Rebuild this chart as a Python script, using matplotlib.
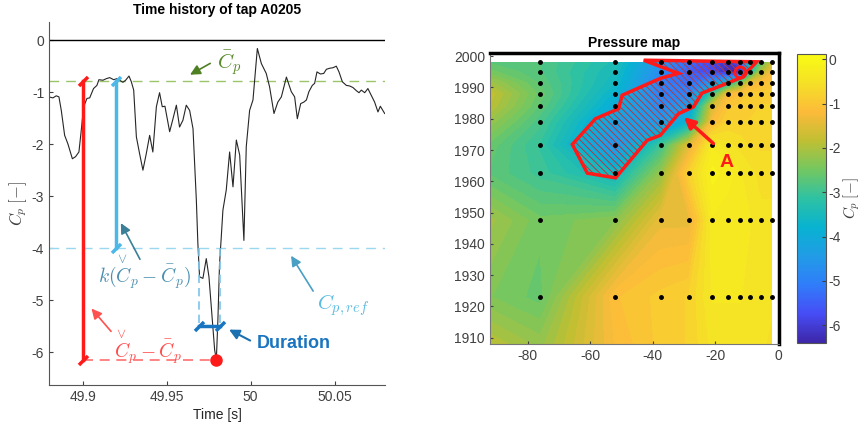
import numpy as np
import matplotlib
matplotlib.use('Agg')
import matplotlib.pyplot as plt
from matplotlib.colors import LinearSegmentedColormap, Normalize
from matplotlib.cm import ScalarMappable
from matplotlib.path import Path
from matplotlib.patches import Polygon

plt.rcParams['font.family'] = ['Liberation Sans', 'DejaVu Sans']
plt.rcParams['mathtext.fontset'] = 'cm'
plt.rcParams['axes.unicode_minus'] = False
plt.rcParams['hatch.linewidth'] = 0.7

# ---- time history of tap A0205 ----
t = [49.8799, 49.8823, 49.8843, 49.8859, 49.8873, 49.8893, 49.8912, 49.8939, 49.8958, 49.8978,
     49.8992, 49.9006, 49.9026, 49.9042, 49.9065, 49.9085, 49.9097, 49.9121, 49.9141, 49.9161,
     49.9185, 49.9204, 49.9220, 49.9240, 49.9256, 49.9276, 49.9290, 49.9304, 49.9320, 49.9339,
     49.9359, 49.9379, 49.9399, 49.9418, 49.9439, 49.9458, 49.9474, 49.9490, 49.9518, 49.9538,
     49.9558, 49.9577, 49.9597, 49.9617, 49.9637, 49.9657, 49.9677, 49.9686, 49.9696, 49.9716,
     49.9736, 49.9752, 49.9772, 49.9786, 49.9796, 49.9805, 49.9815, 49.9825, 49.9835, 49.9855,
     49.9875, 49.9895, 49.9915, 49.9935, 49.9960, 49.9974, 49.9994, 50.0014, 50.0040, 50.0064,
     50.0093, 50.0113, 50.0139, 50.0162, 50.0183, 50.0213, 50.0242, 50.0262, 50.0278, 50.0298,
     50.0317, 50.0332, 50.0347, 50.0367, 50.0381, 50.0395, 50.0415, 50.0435, 50.0451, 50.0470,
     50.0490, 50.0510, 50.0526, 50.0546, 50.0570, 50.0589, 50.0609, 50.0629, 50.0645, 50.0659,
     50.0679, 50.0698, 50.0718, 50.0738, 50.0758, 50.0772, 50.0798]
cp = [-1.09, -1.11, -1.07, -1.09, -1.35, -1.83, -1.99, -2.28, -2.24, -2.15,
      -1.73, -1.28, -1.12, -1.11, -0.93, -0.87, -0.76, -0.77, -0.74, -0.72,
      -0.76, -0.74, -0.77, -0.81, -0.77, -0.69, -0.80, -0.96, -1.86, -2.18,
      -2.50, -2.18, -1.83, -2.15, -1.28, -1.01, -1.28, -1.27, -1.76, -1.51,
      -1.25, -1.67, -1.54, -1.25, -1.35, -1.70, -3.08, -3.91, -4.55, -4.58,
      -4.20, -4.55, -5.38, -5.96, -6.14, -5.40, -4.30, -3.80, -3.27, -2.88,
      -2.15, -2.82, -1.92, -2.21, -3.85, -2.05, -1.35, -1.15, -0.16, -0.45,
      -0.64, -0.90, -1.41, -1.19, -1.09, -0.71, -0.99, -1.09, -1.51, -1.22,
      -1.19, -1.15, -0.99, -0.87, -0.83, -0.61, -0.65, -0.64, -0.56, -0.54,
      -0.53, -0.50, -0.61, -0.80, -0.87, -0.88, -0.91, -0.97, -1.01, -0.96,
      -1.01, -0.93, -1.06, -1.19, -1.38, -1.27, -1.41]

cp_mean = -0.78
cp_min = -6.14
t_min = 49.9796
k = 0.6
cp_ref = cp_mean + k * (cp_min - cp_mean)
t_red = 49.90
t_blue = 49.92
t_start, t_end = 49.9690, 49.9818
cp_dur = -5.5

# ---- pressure map ----
grid_x = [-92, -76, -52, -37.5, -28.5, -21, -16, -12, -9, -5.5, -2]
grid_z = [1998, 1995, 1991.5, 1988, 1984, 1979, 1971.5, 1962.5, 1947.5, 1923, 1908]
cp_map = [
    [-2.7, -2.8, -3.4, -4.6, -5.3, -5.8, -6.2, -5.6, -3.5, -2.7, -1.8],
    [-2.5, -2.8, -3.5, -4.8, -5.5, -5.8, -6.3, -6.4, -3.5, -2.0, -1.3],
    [-2.1, -2.7, -3.6, -5.0, -5.3, -4.6, -3.5, -2.5, -1.5, -1.2, -1.0],
    [-1.8, -2.6, -3.8, -5.0, -4.9, -3.0, -1.3, -1.1, -0.9, -0.9, -0.9],
    [-1.9, -2.7, -4.0, -4.8, -4.4, -1.6, -1.0, -0.9, -0.9, -0.8, -0.8],
    [-2.2, -2.9, -4.3, -4.5, -3.8, -1.2, -0.8, -0.8, -0.8, -0.8, -0.8],
    [-2.6, -3.1, -4.6, -3.0, -1.5, -0.3, -0.5, -0.6, -0.7, -0.7, -0.7],
    [-2.7, -3.0, -3.6, -2.2, -0.8, -0.1, -0.2, -0.4, -0.5, -0.6, -0.6],
    [-2.1, -2.5, -2.3, -1.4, -1.4, -0.3, -0.4, -0.4, -0.4, -0.5, -0.5],
    [-2.4, -2.6, -1.1, -0.9, -0.8, -0.4, -0.4, -0.4, -0.5, -0.5, -0.5],
    [-1.9, -2.2, -1.2, -0.9, -0.8, -0.5, -0.5, -0.5, -0.5, -0.5, -0.6],
]
tap_x = [-76, -52, -37.5, -28.5, -21, -16, -12, -9, -5.5, -2]
tap_z = [1998, 1995, 1991.5, 1988, 1984, 1979, 1971.5, 1962.5, 1947.5, 1923]

zone_x = [-42.9, -31.8, -37.6, -49.8, -50.9, -58.3, -65.7, -60.9, -51.9, -41.8,
          -37.6, -31.8, -27.0, -24.3, -20.6, -11.6, -6.8]
zone_z = [1998.7, 1994.5, 1992.9, 1987.5, 1983.2, 1980.0, 1971.8, 1962.6, 1961.1, 1973.1,
          1974.7, 1981.6, 1983.8, 1988.2, 1989.6, 1993.2, 1998.2]
peak_tap = (-12.1, 1995)
cp_lim = (-6.4, 0.12)
cb_ticks = [0, -1, -2, -3, -4, -5, -6]

parula = LinearSegmentedColormap.from_list('parula', [
    (0.2422, 0.1504, 0.6603), (0.2760, 0.3000, 0.9600), (0.1900, 0.4900, 0.9800),
    (0.1300, 0.6100, 0.9000), (0.0300, 0.7000, 0.8200), (0.1800, 0.7600, 0.6400),
    (0.4500, 0.7800, 0.3800), (0.7500, 0.7500, 0.2000), (0.9900, 0.7300, 0.2300),
    (0.9600, 0.8800, 0.1500), (0.9769, 0.9839, 0.0805)])

grey = '#404040'
cap = Path([(-1, -1), (1, 1)], [Path.MOVETO, Path.LINETO])
c_check = r'\overset{\vee}{C}'

fig = plt.figure(figsize=(8.66, 4.36), dpi=100)
ax = fig.add_axes([0.0566, 0.117, 0.388, 0.8326])
ax2 = fig.add_axes([0.5658, 0.211, 0.3337, 0.6674])
cax = fig.add_axes([0.9203, 0.2133, 0.0335, 0.6628])

# left: time history
ax.axhline(0, color='black', lw=1)
ax.axhline(cp_mean, color='#9cc46a', lw=1, ls=(0, (7, 5)))
ax.axhline(cp_ref, color='#9ad8f0', lw=1, ls=(0, (7, 5)))
ax.plot(t, cp, color='#262626', lw=0.8)

ax.plot([t_red, t_min], [cp_min, cp_min], color='#ff7070', lw=1.2, ls=(0, (6, 4)))
ax.plot([t_red, t_red], [cp_mean, cp_min], color='#ff1a1a', lw=2.5,
        marker=cap, ms=6.5, mew=2.5, mfc='none')
ax.plot(t_min, cp_min, 'o', color='#ff1a1a', ms=8)
ax.plot([t_blue, t_blue], [cp_mean, cp_ref], color='#4cb8e8', lw=2.5,
        marker=cap, ms=6.5, mew=2.5, mfc='none')

for tt in (t_start, t_end):
    ax.plot([tt, tt], [cp_ref, cp_dur], color='#7cc4ea', lw=1.2, ls=(0, (5, 3)))
ax.plot([t_start, t_end], [cp_dur, cp_dur], color='#1a75c0', lw=2.5,
        marker=cap, ms=6.5, mew=2.5, mfc='none')

ax.annotate('', xy=(49.9625, -0.69), xytext=(49.9774, -0.42),
            arrowprops=dict(arrowstyle='-|>', color='#4f7f23', lw=1.2, mutation_scale=15))
ax.text(49.9875, -0.44, r'$\bar{C}_p$', color='#5b8a2e', fontsize=15, ha='center', va='center')

ax.annotate('', xy=(50.0232, -4.10), xytext=(50.0381, -4.87),
            arrowprops=dict(arrowstyle='-|>', color='#4a9fc4', lw=1.2, mutation_scale=15))
ax.text(50.0548, -5.1, r'$C_{p,ref}$', color='#5bbbe0', fontsize=15, ha='center', va='center')

ax.annotate('', xy=(49.9220, -3.47), xytext=(49.9349, -4.26),
            arrowprops=dict(arrowstyle='-|>', color='#3b7f99', lw=1.2, mutation_scale=15))
ax.text(49.9369, -4.46, r'$k(' + c_check + r'_p-\bar{C}_p)$', color='#4a8fb0', fontsize=14,
        ha='center', va='center')

ax.annotate('', xy=(49.9042, -5.12), xytext=(49.9180, -5.64),
            arrowprops=dict(arrowstyle='-|>', color='#ff5050', lw=1.2, mutation_scale=15))
ax.text(49.9389, -5.9, r'$' + c_check + r'_p-\bar{C}_p$', color='#ff4a4a', fontsize=14,
        ha='center', va='center')

ax.annotate('', xy=(49.9857, -5.54), xytext=(50.0012, -5.80),
            arrowprops=dict(arrowstyle='-|>', color='#1a70b0', lw=1.5, mutation_scale=15))
ax.text(50.0036, -5.83, 'Duration', color='#1a75c0', fontsize=13, fontweight='bold',
        ha='left', va='center')

ax.set_xlim(49.88, 50.08)
ax.set_ylim(-6.63, 0.35)
ax.set_xticks([49.9, 49.95, 50, 50.05])
ax.set_xticklabels(['49.9', '49.95', '50', '50.05'])
ax.set_yticks([0, -1, -2, -3, -4, -5, -6])
ax.set_xlabel('Time [s]', fontsize=10, color='#262626', labelpad=3)
ax.set_ylabel(r'$C_p\;[-]$', fontsize=12, color=grey, labelpad=2)
ax.set_title('Time history of tap A0205', fontsize=10, fontweight='bold', pad=6)
for s in ('top', 'right'):
    ax.spines[s].set_visible(False)
for s in ('left', 'bottom'):
    ax.spines[s].set_color('#555555')
ax.tick_params(direction='in', length=3, colors=grey, labelsize=10, labelcolor=grey)

# right: pressure map
X, Z = np.meshgrid(grid_x, grid_z)
levels = np.linspace(cp_lim[0], cp_lim[1], 50)
ax2.contourf(X, Z, np.array(cp_map), levels=levels, cmap=parula)
hatch = Polygon(np.column_stack([zone_x, zone_z]), closed=True, facecolor='none',
                edgecolor='#b03a48', lw=0, hatch='\\' * 5, zorder=3)
ax2.add_patch(hatch)
outline = Polygon(np.column_stack([zone_x, zone_z]), closed=True, facecolor='none',
                  edgecolor='#ff1a1a', lw=2.5, zorder=3)
ax2.add_patch(outline)
TX, TZ = np.meshgrid(tap_x, tap_z)
ax2.plot(TX.ravel(), TZ.ravel(), 'o', color='black', ms=2.5, zorder=4)
ax2.plot(*peak_tap, 'o', mfc='none', mec='#ff1a1a', mew=2, ms=8, zorder=5)
ax2.annotate('', xy=(-30.7, 1981.1), xytext=(-20, 1971.5),
             arrowprops=dict(arrowstyle='-|>', color='#ff1a1a', lw=2.5, mutation_scale=16),
             zorder=5)
ax2.text(-16.3, 1966.1, 'A', color='#ff1a1a', fontsize=14, fontweight='bold',
         ha='center', va='center', zorder=5)

ax2.set_xlim(-92, 0.3)
ax2.set_ylim(1908, 2001)
ax2.set_xticks([-80, -60, -40, -20, 0])
ax2.set_yticks(np.arange(1910, 2001, 10))
ax2.set_title('Pressure map', fontsize=10, fontweight='bold', pad=4)
for s in ('left', 'bottom'):
    ax2.spines[s].set_color('#777777')
for s in ('top', 'right'):
    ax2.spines[s].set_color('black')
    ax2.spines[s].set_linewidth(2.5)
ax2.tick_params(direction='in', length=2, colors=grey, labelsize=10, labelcolor=grey)

sm = ScalarMappable(norm=Normalize(*cp_lim), cmap=parula)
cb = fig.colorbar(sm, cax=cax)
cb.set_ticks(cb_ticks)
cb.set_ticklabels([str(v) for v in cb_ticks])
cb.outline.set_edgecolor('#555555')
cb.ax.tick_params(direction='in', length=3, colors=grey, labelsize=10, labelcolor=grey, pad=2)
cb.set_label(r'$C_p\;[-]$', fontsize=11, color=grey, labelpad=0)

fig.savefig('out.png', dpi=100)
